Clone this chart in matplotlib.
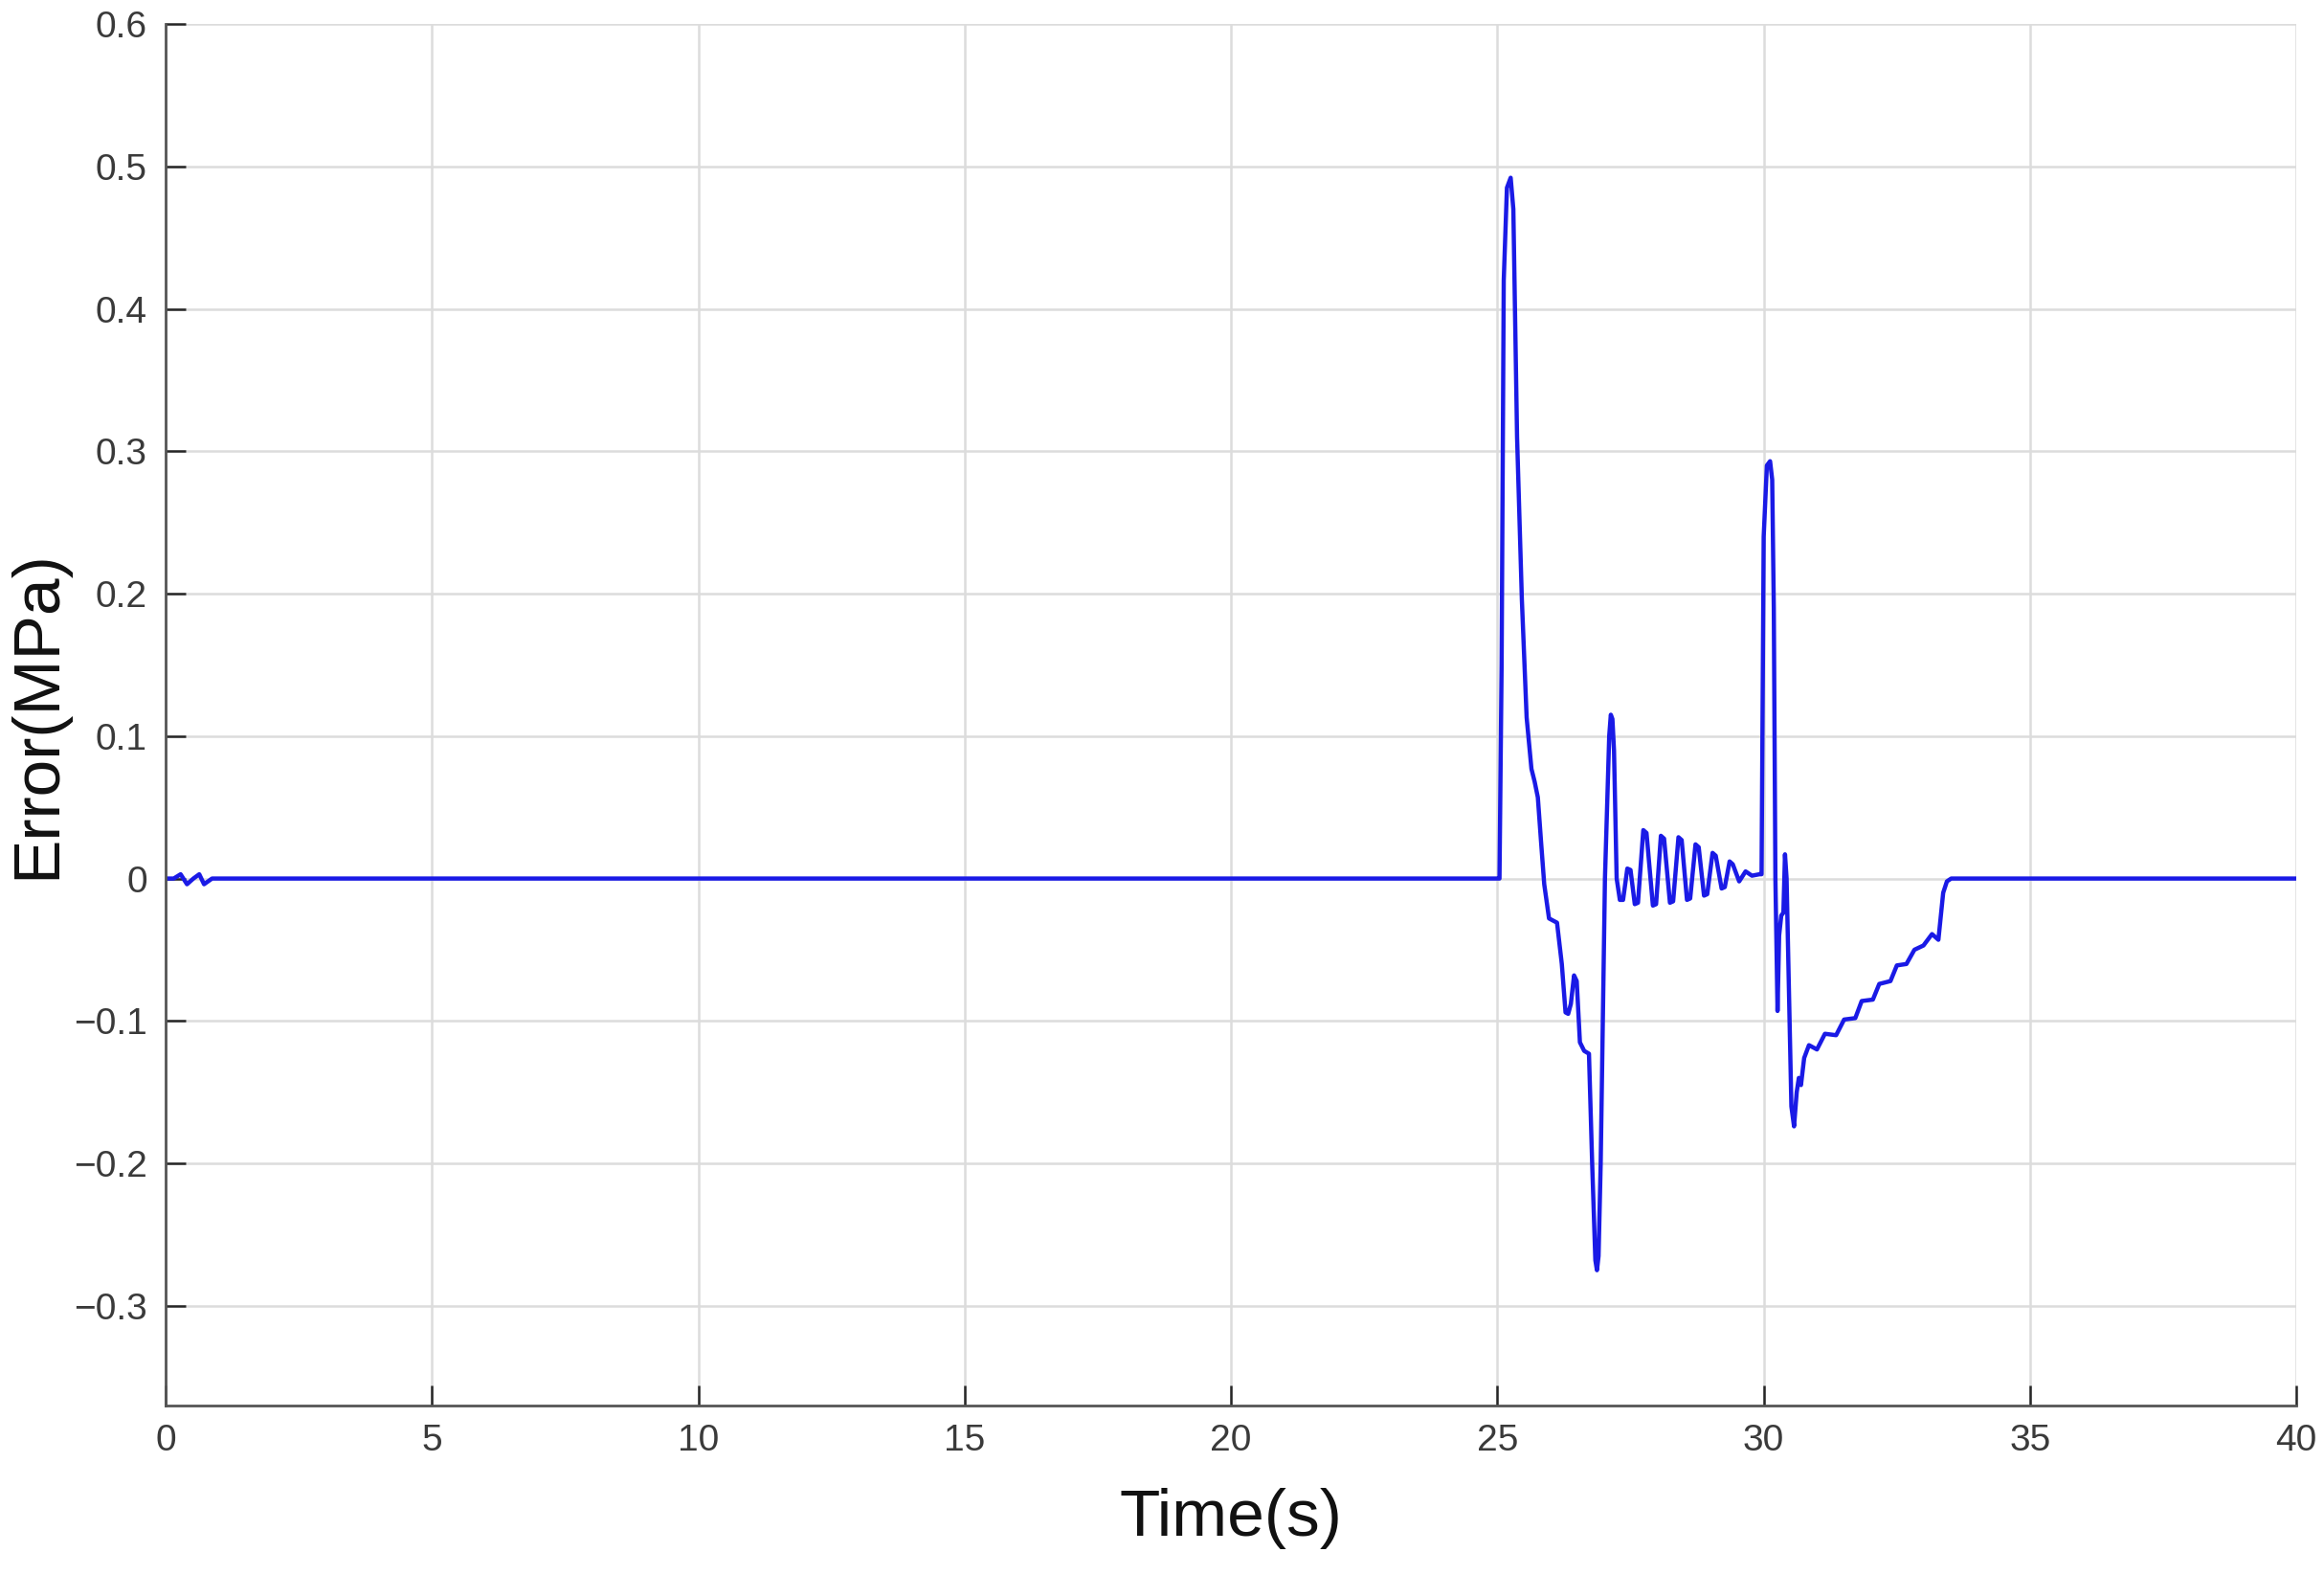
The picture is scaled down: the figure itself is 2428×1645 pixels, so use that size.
import matplotlib
matplotlib.use("Agg")
import matplotlib.pyplot as plt

# pressure error trace (s, MPa)
t = [0.0, 0.15, 0.28, 0.40, 0.52, 0.63, 0.72, 0.87, 1.0,
     25.00, 25.04, 25.08, 25.12, 25.18, 25.25, 25.30, 25.37, 25.46, 25.55,
     25.64, 25.70, 25.76, 25.82, 25.88, 25.97, 26.12, 26.21, 26.28, 26.33, 26.38,
     26.44, 26.49, 26.55, 26.63, 26.72, 26.78, 26.84, 26.87, 26.90, 26.94, 27.02, 27.10,
     27.13, 27.16, 27.19, 27.24, 27.30, 27.36, 27.44, 27.50, 27.58, 27.64,
     27.74, 27.80, 27.92, 27.98, 28.07, 28.13, 28.24, 28.30, 28.40, 28.46,
     28.56, 28.62, 28.72, 28.78, 28.88, 28.94, 29.04, 29.10, 29.21, 29.27,
     29.36, 29.42, 29.54, 29.66, 29.78, 29.92, 29.96, 30.00, 30.06, 30.12,
     30.16, 30.19, 30.22, 30.26, 30.29, 30.33, 30.37, 30.40, 30.43, 30.52,
     30.57, 30.62, 30.66, 30.70, 30.76, 30.85, 31.00, 31.15, 31.36, 31.51,
     31.72, 31.84, 32.05, 32.17, 32.38, 32.50, 32.68, 32.83, 33.00, 33.16,
     33.28, 33.37, 33.44, 33.52, 40.0]
err = [0.0, 0.0, 0.003, -0.004, 0.0, 0.003, -0.004, 0.0, 0.0,
       0.0, 0.0, 0.15, 0.42, 0.485, 0.492, 0.47, 0.31, 0.196, 0.113,
       0.077, 0.068, 0.057, 0.026, -0.004, -0.028, -0.031, -0.06, -0.094, -0.095, -0.088,
       -0.068, -0.072, -0.115, -0.121, -0.123, -0.20, -0.268, -0.275, -0.265, -0.2, 0.0, 0.10,
       0.115, 0.112, 0.09, 0.0, -0.015, -0.015, 0.007, 0.006, -0.018, -0.017,
       0.034, 0.032, -0.019, -0.018, 0.030, 0.028, -0.017, -0.016, 0.029, 0.027,
       -0.015, -0.014, 0.024, 0.022, -0.012, -0.011, 0.018, 0.016, -0.007, -0.006,
       0.012, 0.010, -0.002, 0.005, 0.002, 0.003, 0.003, 0.24, 0.29, 0.293,
       0.28, 0.19, 0.0, -0.093, -0.04, -0.026, -0.024, 0.017, 0.0, -0.16,
       -0.174, -0.15, -0.14, -0.145, -0.126, -0.117, -0.12, -0.109, -0.11, -0.099,
       -0.098, -0.086, -0.085, -0.074, -0.072, -0.061, -0.060, -0.050, -0.047, -0.039,
       -0.043, -0.010, -0.002, 0.0, 0.0]

xticks = [0, 5, 10, 15, 20, 25, 30, 35, 40]
yticks = [-0.3, -0.2, -0.1, 0.0, 0.1, 0.2, 0.3, 0.4, 0.5, 0.6]
ytick_labels = ['\u22120.3', '\u22120.2', '\u22120.1', '0', '0.1', '0.2',
                '0.3', '0.4', '0.5', '0.6']

plt.rcParams['font.family'] = ['Liberation Sans', 'DejaVu Sans']

fig = plt.figure(figsize=(24.28, 16.45), dpi=100)
ax = fig.add_axes([0.0713, 0.1076, 0.9168, 0.8772])

ax.plot(t, err, color=(0.1, 0.1, 0.9), lw=3.2, solid_joinstyle='round')

ax.set_xlim(0, 40)
ax.set_ylim(-0.37, 0.6)
ax.set_xticks(xticks)
ax.set_yticks(yticks)
ax.set_yticklabels(ytick_labels)
ax.grid(True, color='#dcdcdc', lw=1.8)
ax.set_axisbelow(True)

for s in ['top', 'right']:
    ax.spines[s].set_visible(False)
for s in ['left', 'bottom']:
    ax.spines[s].set_color('#555555')
    ax.spines[s].set_linewidth(2.0)

ax.tick_params(direction='in', length=15, width=1.8, color='#262626',
               labelsize=28, labelcolor='#3a3a3a', pad=14)

ax.set_xlabel('Time(s)', fontsize=50, color='#111111', labelpad=22)
ax.set_ylabel('Error(MPa)', fontsize=50, color='#111111', labelpad=4)

fig.savefig('out.png', dpi=100, facecolor='white')
